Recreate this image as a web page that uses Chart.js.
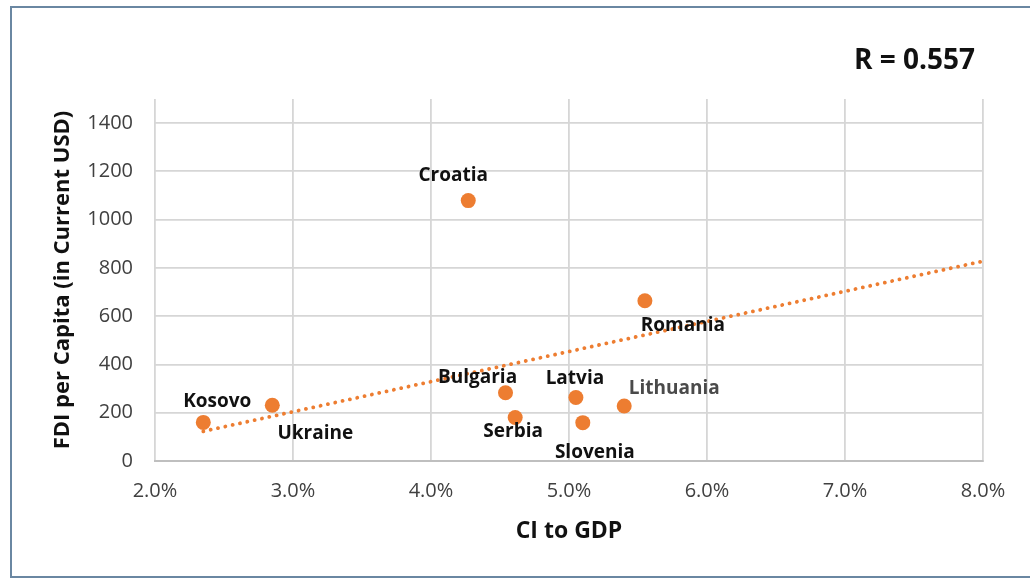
<!DOCTYPE html>
<html>
<head>
<meta charset="utf-8">
<script src="https://cdn.jsdelivr.net/npm/chart.js@4"></script>
<style>
  html, body { margin: 0; padding: 0; background: #ffffff; overflow: hidden; }
  #wrap { position: relative; width: 1030px; height: 583px; }
  #frame { position: absolute; left: 10px; top: 6px; width: 1040px; height: 572px; border: 2px solid #6a87a2; box-sizing: border-box; }
  canvas { position: absolute; left: 0; top: 0; }
</style>
</head>
<body>
<div id="wrap">
  <div id="frame"></div>
  <canvas id="c" width="1030" height="583"></canvas>
</div>
<script>
const countries = ["Kosovo", "Ukraine", "Croatia", "Romania", "Bulgaria", "Serbia", "Latvia", "Slovenia", "Lithuania"];
const ciToGdp = [2.35, 2.85, 4.27, 5.55, 4.54, 4.61, 5.05, 5.10, 5.40];
const fdiPerCapita = [160, 231, 1079, 664, 283, 180, 263, 159, 228];
const trendX = [2.35, 8.0];
const trendY = [123, 828];
const xTickValues = [2, 3, 4, 5, 6, 7, 8];
const yTickValues = [0, 200, 400, 600, 800, 1000, 1200, 1400];
const rLabel = "R = 0.557";
const xTitle = "CI to GDP";
const yTitle = "FDI per Capita (in Current USD)";

const ORANGE = "#ED7D31";
const FONT = "'Open Sans', 'Liberation Sans', sans-serif";

// label offsets (px) relative to each point, and colours
const labelStyle = {
  Kosovo:   { dx: 14,  dy: -21, color: "#111111" },
  Ukraine:  { dx: 43,  dy: 28,  color: "#111111" },
  Croatia:  { dx: -15, dy: -25, color: "#111111" },
  Romania:  { dx: 38,  dy: 25,  color: "#111111" },
  Bulgaria: { dx: -28, dy: -15, color: "#111111" },
  Serbia:   { dx: -2,  dy: 14,  color: "#111111" },
  Latvia:   { dx: -1,  dy: -19, color: "#111111" },
  Slovenia: { dx: 12,  dy: 30,  color: "#111111" },
  Lithuania:{ dx: 50,  dy: -17, color: "#4a4a4a" }
};

const pointLabels = {
  id: "pointLabels",
  afterDatasetsDraw(chart) {
    const meta = chart.getDatasetMeta(0);
    const ctx = chart.ctx;
    ctx.save();
    ctx.font = "bold 19px " + FONT;
    ctx.textAlign = "center";
    ctx.textBaseline = "middle";
    meta.data.forEach((el, i) => {
      const name = countries[i];
      const s = labelStyle[name];
      ctx.fillStyle = s.color;
      ctx.fillText(name, el.x + s.dx, el.y + s.dy);
    });
    // R annotation
    ctx.font = "bold 28px " + FONT;
    ctx.fillStyle = "#111111";
    ctx.textAlign = "right";
    ctx.fillText(rLabel, 975, 61);
    ctx.restore();
  }
};

new Chart(document.getElementById("c"), {
  type: "scatter",
  data: {
    datasets: [
      {
        label: "Countries",
        data: ciToGdp.map((x, i) => ({ x: x, y: fdiPerCapita[i] })),
        backgroundColor: ORANGE,
        borderWidth: 0,
        pointRadius: 7.5,
        pointHoverRadius: 7.5,
        order: 1
      },
      {
        label: "Trend",
        type: "line",
        data: trendX.map((x, i) => ({ x: x, y: trendY[i] })),
        borderColor: ORANGE,
        borderWidth: 3.8,
        borderDash: [0.1, 7.4],
        borderCapStyle: "round",
        pointRadius: 0,
        fill: false,
        order: 2
      }
    ]
  },
  options: {
    responsive: false,
    animation: false,
    events: [],
    layout: { padding: { left: 50, right: 47, top: 99, bottom: 38 } },
    plugins: {
      legend: { display: false },
      tooltip: { enabled: false },
      title: { display: false }
    },
    scales: {
      x: {
        type: "linear",
        min: 2,
        max: 8,
        afterBuildTicks(scale) { scale.ticks = xTickValues.map(v => ({ value: v })); },
        afterFit(scale) { scale.height = 84; },
        ticks: {
          callback: v => v.toFixed(1) + "%",
          color: "#404040",
          font: { family: FONT, size: 20 },
          padding: 18,
          maxRotation: 0
        },
        grid: { color: "#d6d6d6", lineWidth: 1.8, drawTicks: false },
        border: { display: true, color: "#bfbfbf", width: 2 },
        title: {
          display: true,
          text: xTitle,
          color: "#111111",
          font: { family: FONT, size: 23, weight: "bold" },
          padding: { top: 0, bottom: 0 }
        }
      },
      y: {
        type: "linear",
        min: 0,
        max: 1500,
        afterBuildTicks(scale) { scale.ticks = yTickValues.map(v => ({ value: v })); },
        afterFit(scale) { scale.width = 105; },
        ticks: {
          callback: v => String(v),
          color: "#404040",
          font: { family: FONT, size: 20 },
          padding: 22
        },
        grid: { color: "#d6d6d6", lineWidth: 1.8, drawTicks: false },
        border: { display: false },
        title: {
          display: true,
          text: yTitle,
          color: "#111111",
          font: { family: FONT, size: 22, weight: "bold" },
          padding: { top: 0, bottom: 0 }
        }
      }
    }
  },
  plugins: [pointLabels]
});
</script>
</body>
</html>
